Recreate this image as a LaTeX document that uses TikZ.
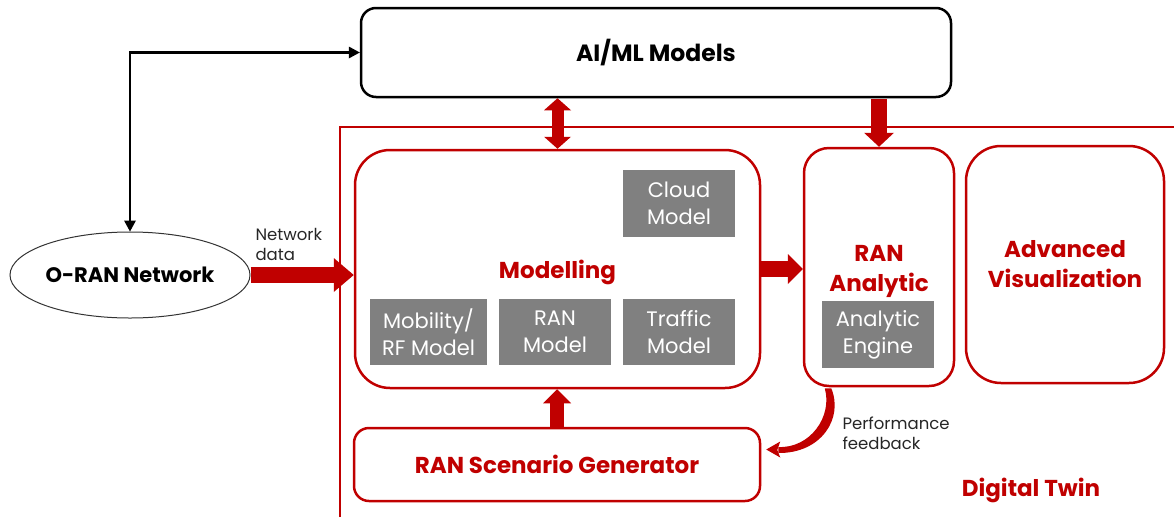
\documentclass[tikz,border=0pt]{standalone}
\usepackage{fontspec}
\setmainfont{Poppins}
\usetikzlibrary{shapes.geometric,arrows.meta,calc}
\definecolor{dtred}{HTML}{C00000}
\definecolor{modgray}{HTML}{808080}
\begin{document}
\begin{tikzpicture}[x=1pt,y=-1pt,
  redbox/.style={draw=dtred,line width=2.5pt,fill=white,inner sep=0pt,
    text=dtred,font=\bfseries\fontsize{23}{30}\selectfont,align=center},
  redtitle/.style={text=dtred,font=\bfseries\fontsize{23}{30}\selectfont,align=center,inner sep=0pt},
  graybox/.style={fill=modgray,text=white,inner sep=0pt,align=center,
    minimum width=112pt,minimum height=67pt,font=\fontsize{21}{27}\selectfont},
  smalllabel/.style={anchor=west,align=left,text=black!85,font=\fontsize{16.5}{20}\selectfont},
  fatarrow/.style={draw=dtred,line width=#1}
]
\useasboundingbox (0,0) rectangle (1174,517);

% Digital Twin frame (open to the right and bottom)
\draw[dtred,line width=2pt] (340,517) -- (340,127) -- (1176,127);

% main blocks
\node[draw=black,line width=2.5pt,rounded corners=15pt,inner sep=0pt,
      minimum width=590pt,minimum height=89pt,
      font=\bfseries\fontsize{23.5}{30}\selectfont] (aiml) at (656,52.5) {AI/ML Models};
\node[ellipse,draw=black!80,line width=1pt,inner sep=0pt,
      minimum width=240pt,minimum height=86pt,
      font=\bfseries\fontsize{21}{26}\selectfont] (oran) at (130,275) {O-RAN Network};

\node[redbox,rounded corners=35pt,minimum width=405pt,minimum height=238pt]
  (modelling) at (557.5,269) {};
\node[redtitle] (modellingtitle) at ($(modelling.center)+(0,3)$) {Modelling};
\node[redbox,rounded corners=25pt,minimum width=150pt,minimum height=238pt]
  (ranA) at (879,267) {};
\node[redtitle] (ranAtitle) at ($(ranA.center)+(0,4)$) {RAN\\Analytic};
\node[redbox,rounded corners=35pt,minimum width=198pt,minimum height=237pt]
  (advvis) at (1065,264.5) {Advanced\\Visualization};
\node[redbox,rounded corners=15pt,minimum width=406pt,minimum height=73pt]
  (scen) at (557,464.5) {RAN Scenario Generator};

% model components
\node[graybox] (cloud) at (679,203.5) {Cloud\\Model};
\node[graybox,minimum width=117pt,minimum height=66pt] (mobility) at (428.5,332) {Mobility/\\RF Model};
\node[graybox,minimum height=66pt] (ranmodel) at (555,332) {RAN\\Model};
\node[graybox,minimum height=66pt] (traffic) at (679,332) {Traffic\\Model};
\node[graybox] (engine) at (878,334.5) {Analytic\\Engine};

% labels
\node[smalllabel] (netdata) at (252,244) {Network\\data};
\node[smalllabel] (perf) at (839,433) {Performance\\feedback};
\node[redtitle] (dt) at (1031,490) {Digital Twin};

% black link between O-RAN and AI/ML
\draw[line width=2.5pt,{Triangle[length=11pt,width=12pt,line width=0pt]}-{Triangle[length=11pt,width=12pt,line width=0pt]}]
  (oran.north) |- (aiml.west);

% red block arrows
\draw[fatarrow=12pt,{Triangle[length=12pt,width=27pt,line width=0pt]}-{Triangle[length=12pt,width=27pt,line width=0pt]}]
  (modelling.north |- aiml.south) -- (modelling.north);
\draw[fatarrow=16pt,-{Triangle[length=14pt,width=30pt,line width=0pt]}]
  ([yshift=-1pt]ranA.north |- aiml.south) -- (ranA.north);
\draw[fatarrow=16pt,-{Triangle[length=20pt,width=34pt,line width=0pt]}]
  (oran.east) -- (oran.east -| modelling.west);
\draw[fatarrow=16pt,-{Triangle[length=15pt,width=30pt,line width=0pt]}]
  (modelling.east) -- (modelling.east -| ranA.west);
\draw[fatarrow=14pt,-{Triangle[length=14pt,width=28pt,line width=0pt]}]
  (scen.north) -- (scen.north |- modelling.south);

% tapered performance-feedback arrow
\coordinate (fbs) at ($(ranA.south west)+(25,1)$);
\coordinate (fbe) at ($(scen.east)+(5,-15)$);
\fill[dtred] ($(fbs)+(3.5,0)$) .. controls ($(fbs)+(16,30)$) and ($(fbe)+(55,4)$) .. ($(fbe)+(12,3.5)$)
  -- ($(fbe)+(12,-2.5)$) .. controls ($(fbe)+(44,-1)$) and ($(fbs)+(5,28)$) .. ($(fbs)+(-3,0)$) -- cycle;
\fill[dtred] (fbe) -- ($(fbe)+(14,-8)$) -- ($(fbe)+(11,0.5)$) -- ($(fbe)+(14,8)$) -- cycle;
\end{tikzpicture}
\end{document}
